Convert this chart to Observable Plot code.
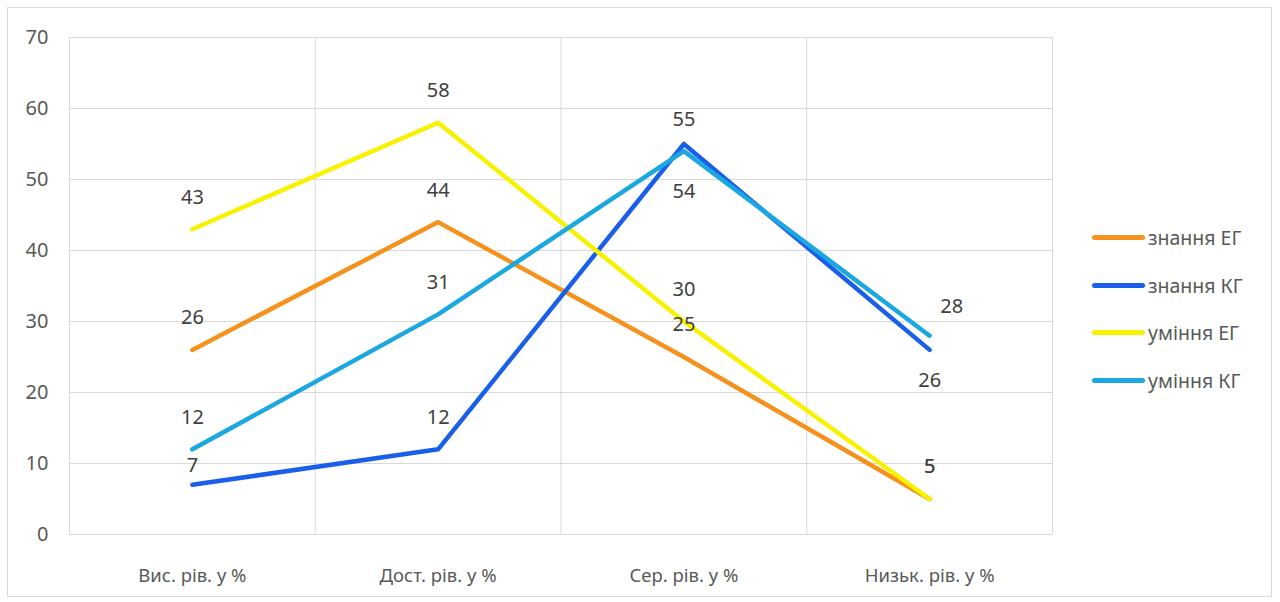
<!DOCTYPE html>
<html>
<head>
<meta charset="utf-8">
<script src="https://cdn.jsdelivr.net/npm/d3@7"></script>
<script src="https://cdn.jsdelivr.net/npm/@observablehq/plot@0.6"></script>
<style>
  body { margin: 0; background: #fff; }
  #wrap { position: relative; width: 1280px; height: 602px; font-family: "Noto Sans", sans-serif; }
  #frame { position: absolute; left: 7px; top: 7px; width: 1265px; height: 590px; border: 1px solid #d9d9d9; box-sizing: border-box; pointer-events: none; }
  #legend { position: absolute; left: 1092px; top: 214px; }
  .item { display: flex; align-items: center; height: 47.5px; color: #595959; font-size: 19.5px; }
  .sw { width: 53px; height: 5px; border-radius: 3px; margin-right: 3px; }
</style>
</head>
<body>
<div id="wrap"><div id="frame"></div><div id="legend"></div></div>
<script>
const categories = ["Вис. рів. у %", "Дост. рів. у %", "Сер. рів. у %", "Низьк. рів. у %"];
const seriesNames = ["знання ЕГ", "знання КГ", "уміння ЕГ", "уміння КГ"];
const knowledgeEG = [26, 44, 25, 5];
const knowledgeKG = [7, 12, 55, 26];
const skillsEG = [43, 58, 30, 5];
const skillsKG = [12, 31, 54, 28];
const colors = ["#F5921E", "#1A5FEA", "#F7F200", "#1BA7DF"];
const yTicks = [0, 10, 20, 30, 40, 50, 60, 70];

const seriesValues = [knowledgeEG, knowledgeKG, skillsEG, skillsKG];
const data = [];
seriesNames.forEach((s, si) => seriesValues[si].forEach((v, ci) => data.push({series: s, i: ci, value: v})));

// label nudges (series index, category index) -> [dx, dy]; default above
const nudges = [
  [1, 0, 0, -19],
  [1, 2, 0, -24],
  [3, 2, 0, 40],
  [1, 3, 0, 31],
  [3, 3, 22, -29]
];
const isNudged = d => nudges.some(n => seriesNames[n[0]] === d.series && n[1] === d.i);

const gridX = d3.range(-0.5, categories.length, 1);

const labelMarks = nudges.map(([si, ci, dx, dy]) =>
  Plot.text(data.filter(d => d.series === seriesNames[si] && d.i === ci),
    {x: "i", y: "value", text: d => String(d.value), dx, dy, fill: "#404040", fontSize: 20}));

const chart = Plot.plot({
  width: 1280,
  height: 602,
  marginLeft: 69,
  marginRight: 228,
  marginTop: 37,
  marginBottom: 68,
  style: {fontFamily: "'Noto Sans', sans-serif", background: "transparent"},
  x: {domain: [-0.5, categories.length - 0.5]},
  y: {domain: [0, 70]},
  color: {domain: seriesNames, range: colors},
  marks: [
    Plot.ruleY(yTicks, {stroke: "#d9d9d9", strokeWidth: 1}),
    Plot.ruleX(gridX, {stroke: "#d9d9d9", strokeWidth: 1}),
    Plot.axisY({ticks: yTicks, tickSize: 0, tickPadding: 21, fontSize: 20, color: "#595959", label: null}),
    Plot.axisX({ticks: d3.range(categories.length), tickFormat: i => categories[i], tickSize: 0, tickPadding: 34, fontSize: 18.5, color: "#595959", label: null}),
    Plot.line(data, {x: "i", y: "value", z: "series", stroke: "series", strokeWidth: 4.5, strokeLinejoin: "round", strokeLinecap: "round"}),
    Plot.text(data.filter(d => !isNudged(d)), {x: "i", y: "value", text: d => String(d.value), dy: -32, fill: "#404040", fontSize: 20}),
    ...labelMarks
  ]
});
document.getElementById("wrap").prepend(chart);

const legend = document.getElementById("legend");
seriesNames.forEach((s, i) => {
  const it = document.createElement("div");
  it.className = "item";
  it.innerHTML = `<div class="sw" style="background:${colors[i]}"></div><span>${s}</span>`;
  legend.appendChild(it);
});
</script>
</body>
</html>
